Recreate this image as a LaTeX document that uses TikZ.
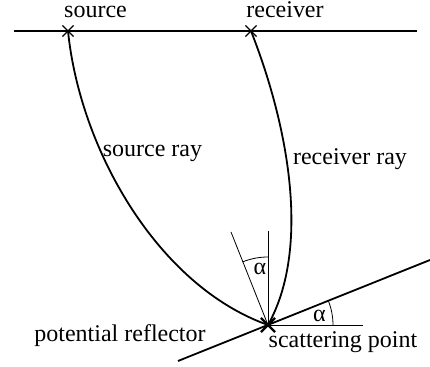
\documentclass[tikz,border=0pt]{standalone}
\usepackage{fontspec}
\setmainfont{Liberation Serif}
\usetikzlibrary{shapes.misc}

\begin{document}
\begin{tikzpicture}[x=0.5pt,y=0.5pt,font=\fontsize{12}{14}\selectfont,
  crossmk/.style={cross out,draw,minimum size=5pt,inner sep=0pt,line width=0.6pt},
  ray/.style={line width=0.9pt},
  thin/.style={line width=0.4pt},
  lbl/.style={anchor=base,inner sep=0pt}]
\useasboundingbox (0,0) rectangle (430,367);
% surface and reflector
\coordinate (sl) at (14,336);
\coordinate (sr) at (417,336);
\draw[line width=1.3pt] (sl) -- (sr);
\node[crossmk] (src) at (68,336) {};
\node[crossmk] (rcv) at (251,336) {};
\node[crossmk,line width=1.1pt,minimum size=6pt] (sp) at (268,42) {};
\coordinate (rl) at (178,6);
\coordinate (rr) at (430,107);
\draw[ray] (rl) -- (rr);
% rays
\draw[ray] (src.center) .. controls (80,217) and (158,81) .. (sp.center);
\draw[ray] (rcv.center) .. controls (290,237) and (310,117) .. (sp.center);
% normal, dip and angles
\coordinate (nv) at (268,136);
\coordinate (nt) at (231,135);
\coordinate (nh) at (363,42);
\draw[thin] (sp.center) -- (nv);
\draw[thin] (sp.center) -- (nt);
\draw[thin] (sp.center) -- (nh);
\draw[thin] (sp.center) ++(90:68) arc (90:112:68);
\draw[thin] (sp.center) ++(0:65) arc (0:22:65);
\node[lbl] (a1) at (260,92) {α};
\node[lbl] (a2) at (319.5,45) {α};
% labels
\node[lbl] (tsrc) at (95.5,349) {source};
\node[lbl] (trcv) at (285,349) {receiver};
\node[lbl] (tsray) at (152.5,210) {source ray};
\node[lbl] (trray) at (350,202) {receiver ray};
\node[lbl] (trefl) at (120,25) {potential reflector};
\node[lbl] (tsp) at (343,19) {scattering point};
\end{tikzpicture}
\end{document}
